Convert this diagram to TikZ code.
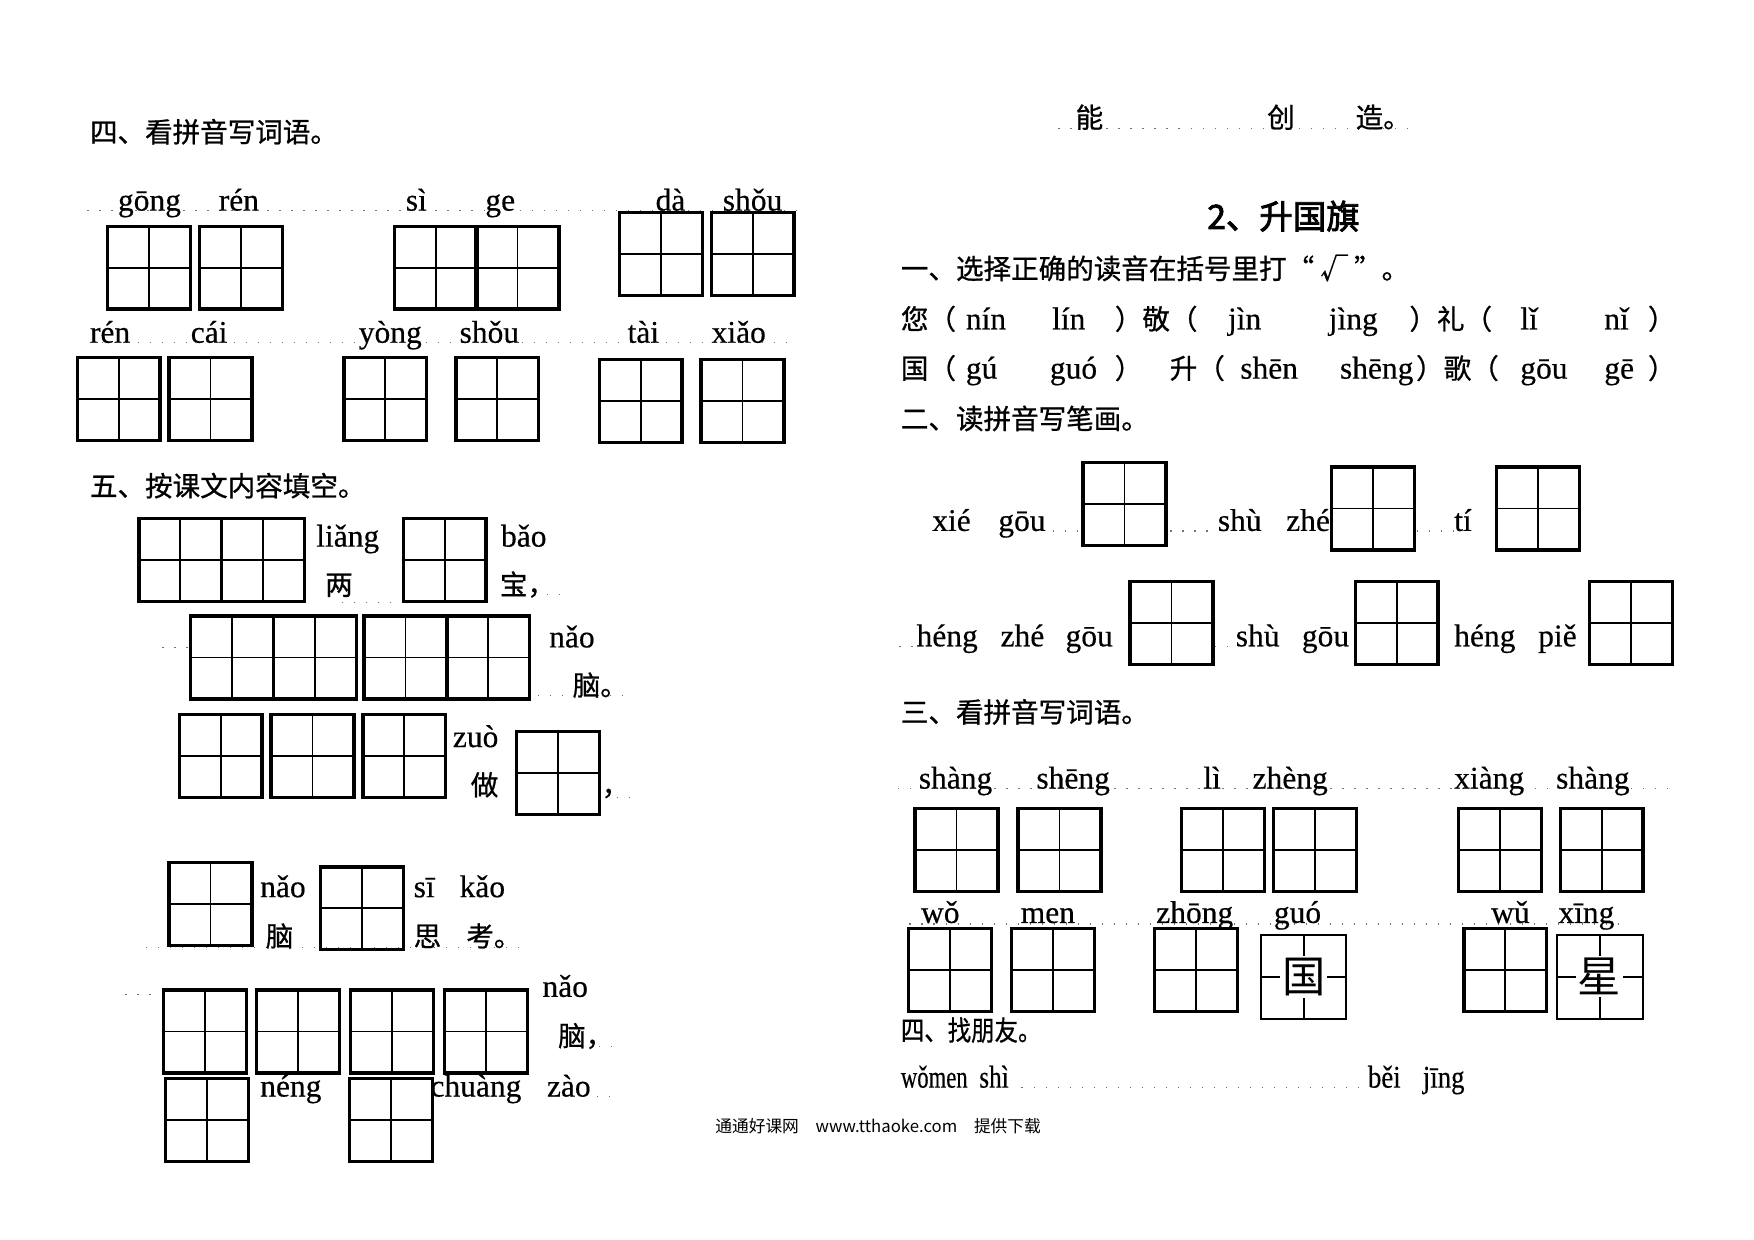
\documentclass[tikz,border=0pt]{standalone}
\usepackage{fontspec}
\setmainfont{Liberation Serif}[FakeBold=0.4]
\newfontfamily\cjk{Noto Sans CJK SC}[FakeBold=0.8]
\newfontfamily\cjkfoot{Noto Sans CJK SC}
\newfontfamily\cjkhead{Noto Sans CJK SC}[FakeBold=2.5]
\usetikzlibrary{calc}

\tikzset{
  tzg/.pic={
    \draw[line width=1.7pt] (0,0) rectangle (74,74);
    \draw[line width=0.9pt] (37,0) -- (37,74) (0,37) -- (74,37);
  },
  py/.style={anchor=base west, inner sep=0pt, font=\fontsize{16}{16}\selectfont},
  hz/.style={anchor=base west, inner sep=0pt, font=\cjk\fontsize{14}{14}\selectfont},
  leader/.style={black!55, line width=0.6pt, dash pattern=on 0.6pt off 5.5pt},
}

\begin{document}
\begin{tikzpicture}[x=0.02cm, y=-0.02cm]
\useasboundingbox[fill=white] (0,0) rectangle (1566,1107);

% dotted leaders
\draw[leader] (78,188) -- (720,188);
\draw[leader] (80,306) -- (705,306);
\draw[leader] (305,538) -- (350,538) (488,531) -- (505,531);
\draw[leader] (145,578) -- (168,578) (480,621) -- (565,621);
\draw[leader] (540,712) -- (562,712);
\draw[leader] (130,846) -- (470,846);
\draw[leader] (112,888) -- (142,888) (535,934) -- (555,934) (533,979) -- (548,979);
\draw[leader] (945,115) -- (1262,115);
\draw[leader] (940,474) -- (965,474) (1045,474) -- (1085,474) (1265,474) -- (1298,474);
\draw[leader] (803,577) -- (815,577) (1085,577) -- (1100,577);
\draw[leader] (802,704) -- (1495,704);
\draw[leader] (812,825) -- (1455,825);
\draw[leader] (912,971) -- (1218,971);

% left: 四
\node[hz] (t4) at (80,127) {四、看拼音写词语。};
\node[py] (gong) at (105,188) {gōng};
\node[py] (ren) at (195,188) {rén};
\node[py] (si) at (362,188) {sì};
\node[py] (ge) at (433,188) {ge};
\node[py] (da) at (585,188) {dà};
\node[py] (shou) at (645,188) {shǒu};
\pic at (96,202) {tzg};
\pic at (178,202) {tzg};
\pic at (352,202) {tzg};
\pic at (425,202) {tzg};
\pic at (553,190) {tzg};
\pic at (635,190) {tzg};

\node[py] (ren2) at (80,306) {rén};
\node[py] (cai) at (170,306) {cái};
\node[py] (yong) at (320,306) {yòng};
\node[py] (shou2) at (410,306) {shǒu};
\node[py] (tai) at (560,306) {tài};
\node[py] (xiao) at (635,306) {xiǎo};
\pic at (69,319) {tzg};
\pic at (151,319) {tzg};
\pic at (307,319) {tzg};
\pic at (407,319) {tzg};
\pic at (535,321) {tzg};
\pic at (626,321) {tzg};

% left: 五
\node[hz] (t5) at (80,443) {五、按课文内容填空。};
\pic at (124,463) {tzg};
\pic at (198,463) {tzg};
\node[py] (liang) at (282,488) {liǎng};
\node[hz] (liangz) at (290,531) {两};
\pic at (360,463) {tzg};
\node[py] (bao) at (447,488) {bǎo};
\node[hz] (baoz) at (446,531) {宝，};

\pic at (170,550) {tzg};
\pic at (244,550) {tzg};
\pic at (325,550) {tzg};
\pic at (399,550) {tzg};
\node[py] (nao) at (490,578) {nǎo};
\node[hz] (naoz) at (511,621) {脑。};

\pic at (160,638) {tzg};
\pic at (242,638) {tzg};
\pic at (324,638) {tzg};
\node[py] (zuo) at (404,667) {zuò};
\node[hz] (zuoz) at (420,710) {做};
\pic at (461,653) {tzg};
\node[hz] (comma) at (537,710) {，};

\pic at (151,770) {tzg};
\node[py] (nao2) at (232,801) {nǎo};
\node[hz] (naoz2) at (237,845) {脑};
\pic at (286,774) {tzg};
\node[py] (sik) at (369,801) {sī};
\node[py] (kao) at (410,801) {kǎo};
\node[hz] (siz) at (369,845) {思};
\node[hz] (kaoz) at (416,845) {考。};

\pic at (146,884) {tzg};
\pic at (229,884) {tzg};
\pic at (313,884) {tzg};
\pic at (397,884) {tzg};
\node[py] (nao3) at (484,890) {nǎo};
\node[hz] (naoz3) at (498,934) {脑，};

\pic at (148,963) {tzg};
\node[py] (neng) at (232,979) {néng};
\pic at (312,963) {tzg};
\node[py] (chuang) at (384,979) {chuàng};
\node[py] (zao) at (488,979) {zào};

\node[font=\cjkfoot\fontsize{8.5}{9}\selectfont, inner sep=0pt] (foot) at (784,1005) {通通好课网\quad www.tthaoke.com\quad 提供下载};

% right
\node[hz] (nengz) at (960,114) {能};
\node[hz] (chuangz) at (1131,114) {创};
\node[hz] (zaoz) at (1210,114) {造。};
\node[font=\cjkhead\fontsize{17}{17}\selectfont, inner sep=0pt] (title) at (1146,193) {2、升国旗};

\node[hz] (r1) at (804,249) {一、选择正确的读音在括号里打“ √ ”。};
\node[hz] (nin) at (804,294) {您（};
\node[py] (nin1) at (862,294) {nín};
\node[py] (lin1) at (939,294) {lín};
\node[hz] (jing) at (995,294) {）敬（};
\node[py] (jin1) at (1096,294) {jìn};
\node[py] (jing1) at (1186,294) {jìng};
\node[hz] (li) at (1258,294) {）礼（};
\node[py] (li1) at (1357,294) {lǐ};
\node[py] (ni1) at (1432,294) {nǐ};
\node[hz] (rp1) at (1471,294) {）};

\node[hz] (guo) at (804,338) {国（};
\node[py] (gu2) at (862,338) {gú};
\node[py] (guo2) at (937,338) {guó};
\node[hz] (rp2) at (995,338) {）};
\node[hz] (sheng) at (1044,338) {升（};
\node[py] (shen2) at (1107,338) {shēn};
\node[py] (sheng2) at (1196,338) {shēng};
\node[hz] (gez) at (1264,338) {）歌（};
\node[py] (gou2) at (1357,338) {gōu};
\node[py] (ge2) at (1432,338) {gē};
\node[hz] (rp3) at (1471,338) {）};

\node[hz] (r2) at (804,383) {二、读拼音写笔画。};
\node[py] (xie) at (832,474) {xié};
\node[py] (xgou) at (891,474) {gōu};
\pic at (967,413) {tzg};
\node[py] (shu) at (1087,474) {shù};
\node[py] (zhe) at (1148,474) {zhé};
\pic at (1189,417) {tzg};
\node[py] (ti) at (1298,474) {tí};
\pic at (1336,417) {tzg};

\node[py] (heng) at (818,577) {héng};
\node[py] (hzhe) at (893,577) {zhé};
\node[py] (hgou) at (951,577) {gōu};
\pic at (1009,519) {tzg};
\node[py] (shu3) at (1103,577) {shù};
\node[py] (sgou) at (1162,577) {gōu};
\pic at (1210,519) {tzg};
\node[py] (heng3) at (1298,577) {héng};
\node[py] (pie) at (1373,577) {piě};
\pic at (1419,519) {tzg};

\node[hz] (r3) at (804,645) {三、看拼音写词语。};
\node[py] (shang) at (820,704) {shàng};
\node[py] (sheng4) at (925,704) {shēng};
\node[py] (li4) at (1074,704) {lì};
\node[py] (zheng) at (1118,704) {zhèng};
\node[py] (xiang) at (1298,704) {xiàng};
\node[py] (shang4) at (1389,704) {shàng};
\pic at (817,722) {tzg};
\pic at (909,722) {tzg};
\pic at (1055,722) {tzg};
\pic at (1137,722) {tzg};
\pic at (1302,722) {tzg};
\pic at (1393,722) {tzg};

\node[py] (wo) at (822,824) {wǒ};
\node[py] (men) at (911,824) {men};
\node[py] (zhong) at (1032,824) {zhōng};
\node[py] (guo5) at (1137,824) {guó};
\node[py] (wu) at (1331,824) {wǔ};
\node[py] (xing) at (1391,824) {xīng};
\pic at (811,829) {tzg};
\pic at (903,829) {tzg};
\pic at (1031,829) {tzg};
\pic at (1307,829) {tzg};
% filled boxes
\draw[line width=1.1pt] (1126,835) rectangle (1202,910) (1164,835) -- (1164,910) (1126,872.5) -- (1202,872.5);
\node[fill=white, inner sep=1pt, font=\cjkfoot\fontsize{22}{22}\selectfont] (guoz) at (1164,872) {国};
\draw[line width=1.1pt] (1390,835) rectangle (1467,910) (1428.5,835) -- (1428.5,910) (1390,872.5) -- (1467,872.5);
\node[fill=white, inner sep=1pt, font=\cjkfoot\fontsize{22}{22}\selectfont] (xingz) at (1428,872) {星};

\node[hz] (r4) at (804,929) {\scalebox{0.85}[1]{四、找朋友。}};
\node[py] (women) at (804,971) {\scalebox{0.72}[1]{wǒmen}};
\node[py] (shi) at (874,971) {\scalebox{0.8}[1]{shì}};
\node[py] (bei) at (1221,971) {\scalebox{0.85}[1]{běi}};
\node[py] (jing5) at (1270,971) {\scalebox{0.85}[1]{jīng}};
\end{tikzpicture}
\end{document}
